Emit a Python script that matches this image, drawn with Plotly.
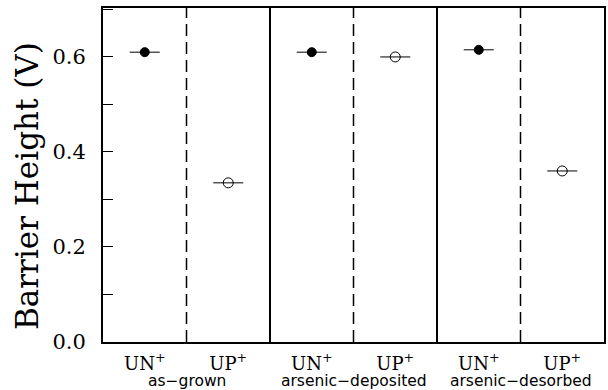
import plotly.graph_objects as go

categories = ["UN<sup>+</sup>", "UP<sup>+</sup>", "UN<sup>+</sup>", "UP<sup>+</sup>", "UN<sup>+</sup>", "UP<sup>+</sup>"]
groups = ["as−grown", "arsenic−deposited", "arsenic−desorbed"]
un_values = [0.610, 0.610, 0.615]
up_values = [0.335, 0.600, 0.360]
y_ticks = [0.0, 0.2, 0.4, 0.6]
y_tick_labels = ["0.0", "0.2", "0.4", "0.6"]

x_un = [0.5, 2.5, 4.5]
x_up = [1.5, 3.5, 5.5]
xerr = 0.18

SERIF = "DejaVu Serif"

fig = go.Figure()
fig.add_trace(go.Scatter(
    x=x_un, y=un_values, mode="markers",
    marker=dict(symbol="circle", size=9, color="black", line=dict(color="black", width=1)),
    error_x=dict(type="constant", value=xerr, width=0, thickness=1, color="black"),
    showlegend=False))
fig.add_trace(go.Scatter(
    x=x_up, y=up_values, mode="markers",
    marker=dict(symbol="circle-open", size=10, color="black", line=dict(color="black", width=1)),
    error_x=dict(type="constant", value=xerr, width=0, thickness=1, color="black"),
    showlegend=False))

# dividers
for xv, dash in [(1, "12px,6px"), (2, "solid"), (3, "12px,6px"), (4, "solid"), (5, "12px,6px")]:
    fig.add_shape(type="line", xref="x", yref="paper", x0=xv, x1=xv, y0=0, y1=1,
                  line=dict(color="black", width=2 if dash == "solid" else 1.5, dash=dash))

for i, g in enumerate(groups):
    fig.add_annotation(x=2 * i + 1, y=0, xref="x", yref="paper", yshift=-29,
                       text=g, showarrow=False, yanchor="top", borderpad=0,
                       font=dict(family="DejaVu Sans", size=15.5, color="black"))

# y-axis title
fig.add_annotation(x=0, y=0.5, xref="paper", yref="paper", xshift=-76, yshift=-11,
                   text="Barrier Height (V)", textangle=-90, showarrow=False,
                   xanchor="center", yanchor="middle",
                   font=dict(family=SERIF, size=31, color="black"))

fig.update_layout(
    width=608, height=390,
    margin=dict(l=103, r=4, t=8, b=48, autoexpand=False),
    plot_bgcolor="white", paper_bgcolor="white",
    font=dict(family=SERIF, color="black"),
)
fig.update_xaxes(range=[0, 6], tickvals=[0.5, 1.5, 2.5, 3.5, 4.5, 5.5], ticktext=categories,
                 ticks="", showgrid=False, zeroline=False, showline=True, linecolor="black",
                 linewidth=2, mirror=True, tickfont=dict(family=SERIF, size=18),
                 ticklabelstandoff=4, automargin=False)
fig.update_yaxes(range=[0, 0.703], tickvals=y_ticks, ticktext=y_tick_labels,
                 ticks="inside", ticklen=10, tickwidth=1, tickcolor="black",
                 minor=dict(dtick=0.1, ticks="inside", ticklen=10, tickwidth=1, tickcolor="black", showgrid=False),
                 showgrid=False, zeroline=False, showline=True, linecolor="black", linewidth=2, mirror=True,
                 tickfont=dict(family=SERIF, size=21), ticklabelstandoff=11, automargin=False)

fig.write_html("out.html", config={"displayModeBar": False},
               post_script="document.body.style.margin='0';")
